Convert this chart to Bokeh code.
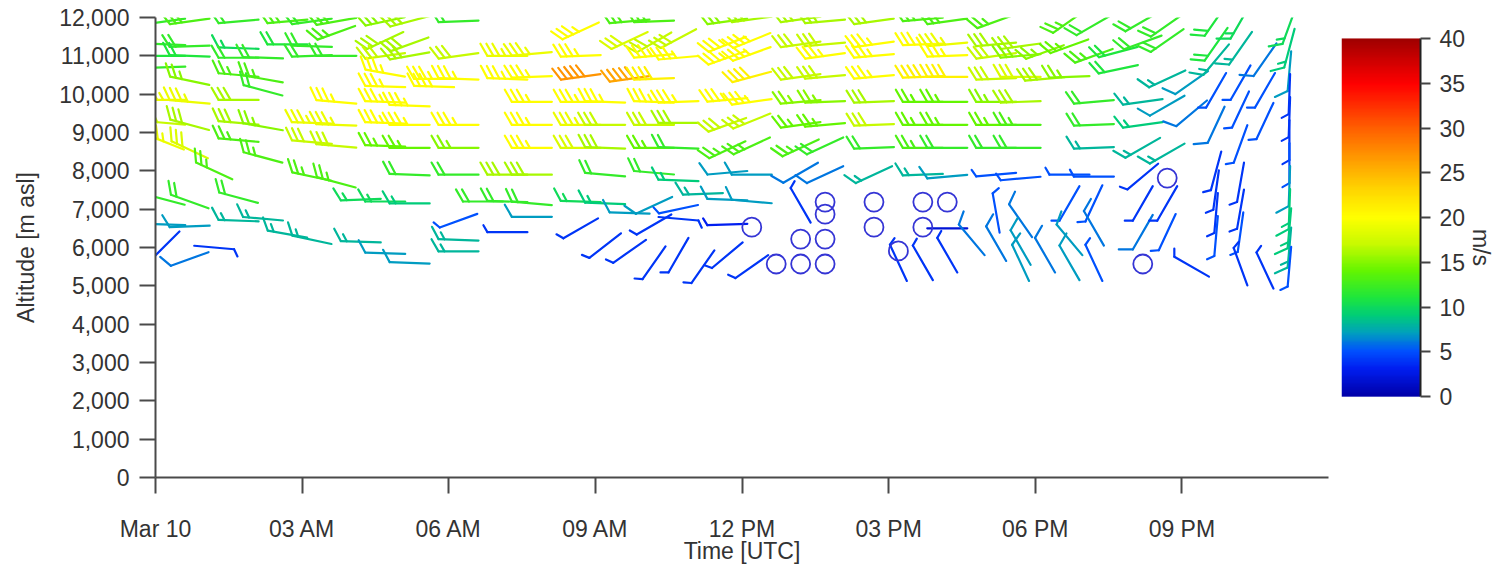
import numpy as np
from bokeh.plotting import figure
from bokeh.models import (Range1d, FixedTicker, NumeralTickFormatter, LinearAxis,
                          LinearColorMapper, ColumnDataSource)
from bokeh.transform import linear_cmap
from bokeh.layouts import row
from bokeh.embed import file_html
from bokeh.resources import INLINE

# ---------------- data ----------------
# profile times in hours after Mar 10 00:00 UTC
profile_hours = [0.2, 0.7, 1.2, 1.7, 2.2, 2.7, 3.2, 3.7, 4.2, 4.7, 5.2, 5.7, 6.2, 6.7, 7.2, 7.7,
                 8.7, 9.2, 9.7, 10.2, 10.7, 11.2, 11.7, 12.2, 12.7, 13.2, 13.7, 14.7, 15.2, 15.7,
                 16.2, 16.7, 17.2, 17.7, 18.2, 18.7, 19.2, 19.7, 20.2, 20.7, 21.2, 21.7, 22.2,
                 22.7, 23.2]
# altitude [m asl] of each observation, per profile
profile_alt = [
    [11900, 11300, 11000, 10700, 9850, 9250, 8750, 7250, 6600, 6050],
    [11900, 11250, 11000, 10350, 9800, 9200, 8550, 7200, 6550, 5700],
    [8000, 6000],
    [11900, 11200, 10950, 10500, 9850, 9250, 8800, 7300, 6700],
    [10950, 10400, 10100, 9150, 8350, 6750],
    [11900, 11300, 6350],
    [11900, 11250, 11000, 9250, 8750, 7850, 6200],
    [11900, 11600, 11000, 9800, 9200, 8650, 7700],
    [7250, 6150],
    [11900, 11400, 11000, 10550, 10200, 9800, 9250, 8650, 7200, 5850],
    [11900, 11300, 11000, 9700, 9200, 8600, 7900, 7150, 5600],
    [10400, 10200],
    [11900, 11000, 10400, 9200, 8600, 7900, 6700, 6200, 5900],
    [7200],
    [11000, 10400, 7900, 7200, 6400],
    [11050, 10450, 9800, 9200, 8600, 7900, 7150, 6800],
    [11650, 11000, 10450, 9800, 9200, 8600, 7200, 6500],
    [9800, 9200, 8600, 7900, 7150, 6050],
    [11900, 11400, 10400, 6900, 5900],
    [11900, 11350, 11000, 10400, 9800, 9200, 8600, 7950, 7100, 6600, 5600],
    [11450, 10950, 9800, 9250, 8600, 7750, 7000, 6750, 5800],
    [7400, 5500],
    [11900, 11300, 10950, 9850, 9200, 8550, 7950, 7250, 6600, 5800],
    [11950, 11400, 11050, 10450, 9800, 9300, 8650, 7900, 7200, 6530, 5500],
    [5570],
    [11950, 11300, 10450, 9800, 9200, 8600, 7950, 7100, 6220, 5570],
    [11900, 11300, 11000, 10450, 9800, 9200, 8650, 7900, 7185, 6870, 6220, 5570],
    [11900, 11300, 11000, 10450, 9800, 9200, 8600, 7900, 7185, 6530],
    [5910, 5600],
    [11950, 11300, 10450, 9800, 9200, 8600, 7900, 7185, 6530, 5600],
    [11900, 11300, 11000, 10450, 9800, 9200, 8600, 7850, 7185, 6500, 5800],
    [6200],
    [11900, 11300, 11000, 10400, 9800, 9200, 8600, 7900, 6900, 6100],
    [11250, 11000, 10450, 9800, 9200, 8600, 7800, 6700, 6000, 5600],
    [11100, 10400, 5800],
    [11900, 11250, 10450, 7900, 7150, 6200, 5600],
    [11800, 11000, 9800, 9200, 8600, 7850, 7150, 6500, 5600],
    [11100, 10650],
    [11900, 11350, 9800, 9200, 8600, 7850, 7150, 6400, 5570],
    [11800, 11400, 10400, 9700, 8450, 7810, 7150, 6400],
    [10300, 9500, 5500],
    [11950, 11300, 10900, 10100, 9200, 8000, 7500, 6900, 6300],
    [11900, 11200, 10300, 9600, 8700, 7700, 7000, 6400, 5500],
    [10900, 10100, 9300, 5400],
    [11800, 11200, 10600, 10000, 9400, 8800, 8200, 7600, 7000, 6500, 6000, 5500],
]
# wind speed [m/s]
profile_speed = [
    [12, 12, 11, 12, 19, 17, 19, 12, 7, 4],
    [13, 12, 11, 15, 19, 16, 18, 12, 7, 6],
    [13, 4],
    [12, 10, 12, 13, 16, 16, 13, 12, 8],
    [12, 13, 12, 15, 13, 8],
    [13, 11, 8],
    [12, 12, 12, 19, 17, 13, 8],
    [13, 13, 12, 20, 19, 17, 13],
    [10, 8],
    [15, 16, 17, 20, 20, 20, 20, 14, 10, 7],
    [16, 16, 16, 20, 20, 14, 12, 9, 7],
    [20, 20],
    [12, 17, 20, 20, 15, 12, 5, 8, 8],
    [12],
    [19, 20, 16, 12, 4],
    [19, 20, 20, 20, 20, 16, 12, 7],
    [20, 20, 27, 20, 19, 18, 10, 4],
    [20, 17, 16, 12, 9, 4],
    [13, 18, 26, 7, 4],
    [13, 17, 20, 21, 20, 17, 14, 12, 7, 4, 4],
    [17, 20, 20, 16, 12, 9, 5, 4, 4],
    [8, 4],
    [15, 20, 20, 20, 17, 13, 7, 7, 3, 4],
    [16, 20, 20, 21, 20, 17, 13, 7, 7, 0.2, 4],
    [0.2],
    [16, 17, 17, 15, 14, 13, 6, 4, 0.2, 0.2],
    [16, 17, 20, 17, 15, 14, 12, 6, 0.2, 0.2, 0.2, 0.2],
    [16, 20, 20, 20, 16, 17, 12, 8, 0.2, 0.2],
    [0.2, 4],
    [13, 20, 21, 14, 14, 13, 8, 0.2, 0.2, 4],
    [13, 19, 20, 21, 14, 14, 12, 7, 0.2, 2, 4],
    [6],
    [13, 16, 17, 17, 15, 14, 12, 5, 5, 6],
    [16, 15, 18, 16, 13, 12, 5, 6, 7, 7],
    [15, 16, 6],
    [13, 14, 15, 5, 5, 7, 7],
    [12, 13, 12, 12, 8, 5, 5, 6, 5],
    [11, 11],
    [12, 12, 8, 9, 8, 4, 4, 6, 0.2],
    [12, 12, 8, 7, 8, 0.2, 4, 5],
    [7, 6, 4],
    [11, 11, 8, 5, 6, 4, 4, 4, 5],
    [10, 8, 5, 5, 5, 4, 4, 5, 4],
    [6, 5, 5, 4],
    [10, 9, 7, 4, 4, 4, 5, 7, 9, 9, 8, 5],
]
# wind direction [deg, from]
profile_dir = [
    [262, 272, 270, 268, 270, 275, 292, 285, 272, 225],
    [262, 268, 272, 282, 275, 285, 295, 290, 268, 250],
    [295, 95],
    [265, 272, 270, 275, 270, 275, 275, 285, 272],
    [272, 280, 285, 280, 285, 275],
    [265, 270, 280],
    [262, 272, 268, 272, 275, 282, 282],
    [260, 250, 270, 275, 272, 275, 285],
    [268, 272],
    [258, 245, 262, 280, 272, 272, 272, 272, 270, 272],
    [255, 250, 260, 272, 270, 270, 272, 270, 272],
    [270, 272],
    [268, 262, 272, 270, 270, 270, 250, 272, 270],
    [270],
    [270, 272, 270, 272, 270],
    [265, 268, 270, 270, 270, 270, 275, 270],
    [245, 268, 262, 270, 270, 270, 272, 240],
    [272, 270, 272, 275, 272, 232],
    [265, 245, 262, 272, 235],
    [268, 240, 265, 268, 272, 270, 270, 275, 245, 240, 215],
    [242, 265, 268, 270, 272, 272, 258, 95, 210],
    [268, 215],
    [262, 248, 250, 265, 250, 245, 265, 272, 268, 230],
    [262, 248, 250, 255, 262, 248, 245, 270, 275, 0, 235],
    [0],
    [262, 262, 262, 265, 262, 245, 240, 330, 0, 0],
    [265, 265, 262, 265, 268, 265, 245, 245, 0, 0, 0, 0],
    [262, 262, 265, 265, 268, 268, 268, 245, 0, 0],
    [0, 335],
    [265, 268, 268, 270, 270, 270, 268, 0, 0, 330],
    [262, 265, 268, 270, 270, 270, 270, 265, 0, 270, 330],
    [320],
    [250, 265, 262, 268, 270, 270, 270, 265, 350, 330],
    [262, 265, 270, 268, 270, 270, 265, 325, 330, 335],
    [250, 265, 330],
    [235, 250, 268, 270, 210, 320, 330],
    [240, 250, 265, 268, 268, 270, 205, 330, 335],
    [255, 258],
    [240, 250, 262, 262, 240, 230, 210, 210, 0],
    [235, 235, 245, 240, 240, 0, 210, 205],
    [235, 230, 300],
    [215, 215, 220, 210, 205, 195, 188, 185, 185],
    [210, 215, 210, 205, 200, 190, 190, 188, 340],
    [215, 210, 205, 335],
    [200, 195, 185, 182, 182, 180, 180, 182, 182, 185, 185, 185],
]

x_tick_hours = [0, 3, 6, 9, 12, 15, 18, 21]
x_tick_labels = ["Mar 10", "03 AM", "06 AM", "09 AM", "12 PM", "03 PM", "06 PM", "09 PM"]
y_ticks = [0, 1000, 2000, 3000, 4000, 5000, 6000, 7000, 8000, 9000, 10000, 11000, 12000]
cb_ticks = [0, 5, 10, 15, 20, 25, 30, 35, 40]

assert len(profile_hours) == len(profile_alt) == len(profile_speed) == len(profile_dir)
for a_, s_, d_ in zip(profile_alt, profile_speed, profile_dir):
    assert len(a_) == len(s_) == len(d_)

# ---------------- style ----------------
FONT = "Liberation Sans"
FS = "23px"
TXT = "#333333"
AX = "#4a4a4a"
FRAME_W, FRAME_H = 1173, 461
X_MAX, Y_MAX = 24.0, 12000.0
PX_H = FRAME_W / X_MAX
PX_M = FRAME_H / Y_MAX

anchors = [(0, (0, 0, 170)), (3, (0, 30, 240)), (5, (0, 80, 255)), (7, (0, 160, 190)),
           (9, (0, 205, 120)), (11, (30, 230, 60)), (14, (100, 245, 0)), (17, (200, 250, 0)),
           (20, (255, 255, 0)), (23, (255, 215, 0)), (26, (255, 165, 0)), (30, (255, 95, 0)),
           (35, (255, 0, 0)), (40, (160, 0, 0))]


def make_palette(n=256):
    vals = [a[0] for a in anchors]
    cols = np.array([a[1] for a in anchors], dtype=float)
    out = []
    for v in np.linspace(0, 40, n):
        r = np.interp(v, vals, cols[:, 0])
        g = np.interp(v, vals, cols[:, 1])
        b = np.interp(v, vals, cols[:, 2])
        out.append("#%02x%02x%02x" % (int(round(r)), int(round(g)), int(round(b))))
    return out


palette = make_palette()

HALF = 20.0       # half staff length in px
FULL_L, HALF_L, STEP = 14.0, 8.0, 6.0
LEAN = np.deg2rad(30)


def barb(h, alt, spd, d):
    rad = np.deg2rad(d)
    ux, uy = np.sin(rad), np.cos(rad)      # towards where the wind comes from
    qx, qy = uy, -ux                       # feather side

    def P(a, b):
        sx = a * ux + b * qx
        sy = a * uy + b * qy
        return (h + sx / PX_H, alt + sy / PX_M)

    segs = [[P(-HALF, 0), P(HALF, 0)]]
    kt = spd * 1.943844
    nfull = int(kt // 10)
    nhalf = 1 if kt - nfull * 10 >= 5 else 0
    pos = HALF
    for _ in range(nfull):
        segs.append([P(pos, 0), P(pos + FULL_L * np.sin(LEAN), FULL_L * np.cos(LEAN))])
        pos -= STEP
    for _ in range(nhalf):
        segs.append([P(pos, 0), P(pos + HALF_L * np.sin(LEAN), HALF_L * np.cos(LEAN))])
        pos -= STEP
    return segs


xs, ys, sp = [], [], []
calm_x, calm_y = [], []
for h, alts, spds, dirs in zip(profile_hours, profile_alt, profile_speed, profile_dir):
    for a, s, d in zip(alts, spds, dirs):
        if s < 0.3:
            calm_x.append(h)
            calm_y.append(a)
            continue
        for seg in barb(h, a, s, d):
            xs.append([q[0] for q in seg])
            ys.append([q[1] for q in seg])
            sp.append(s)

src = ColumnDataSource(dict(xs=xs, ys=ys, spd=sp))

# ---------------- main figure ----------------
p = figure(width=1336, height=566, x_range=Range1d(0, X_MAX), y_range=Range1d(0, Y_MAX),
           output_backend="svg", toolbar_location=None,
           min_border_left=155, min_border_right=8, min_border_top=17, min_border_bottom=88)
p.grid.visible = False
p.outline_line_color = None
p.background_fill_color = "white"

p.multi_line(xs="xs", ys="ys", source=src, line_color=linear_cmap("spd", palette, 0, 40),
             line_width=2.2, line_cap="round", line_join="round")
p.scatter(calm_x, calm_y, marker="circle", size=19, fill_color=None,
          line_color="#3535d5", line_width=1.8)

for ax in (p.xaxis[0], p.yaxis[0]):
    ax.axis_line_color = AX
    ax.axis_line_width = 2
    ax.major_tick_line_color = AX
    ax.major_tick_line_width = 2
    ax.major_tick_out = 16
    ax.major_tick_in = 0
    ax.minor_tick_line_color = None
    ax.major_label_text_font = FONT
    ax.major_label_text_font_size = FS
    ax.major_label_text_color = TXT
    ax.axis_label_text_font = FONT
    ax.axis_label_text_font_size = FS
    ax.axis_label_text_font_style = "normal"
    ax.axis_label_text_color = TXT

p.xaxis.ticker = FixedTicker(ticks=x_tick_hours)
p.xaxis.major_label_overrides = {h: lab for h, lab in zip(x_tick_hours, x_tick_labels)}
p.xaxis.major_label_standoff = 22
p.xaxis.axis_label = "Time [UTC]"
p.xaxis.axis_label_standoff = -7

p.yaxis.ticker = FixedTicker(ticks=y_ticks)
p.yaxis.formatter = NumeralTickFormatter(format="0,0")
p.yaxis.major_label_standoff = 10
p.yaxis.axis_label = "Altitude [m asl]"
p.yaxis.axis_label_standoff = 17

# ---------------- colour bar ----------------
# same frame as the main plot; the bar itself spans 0..40 between y=38 and y=397
CB_PX = (397 - 38) / 40.0
cb_lo = -(478 - 397) / CB_PX
cb_hi = 40 + (38 - 17) / CB_PX
mapper = LinearColorMapper(palette=palette, low=0, high=40)
cb = figure(width=170, height=566, x_range=Range1d(0, 1), y_range=Range1d(cb_lo, cb_hi),
            output_backend="svg", toolbar_location=None,
            x_axis_location=None, y_axis_location=None,
            min_border_left=5, min_border_right=86, min_border_top=17, min_border_bottom=88)
cb.grid.visible = False
cb.outline_line_color = None
grad = np.linspace(0, 40, 400).reshape(400, 1)
cb.image(image=[grad], x=0, y=0, dw=1, dh=40, color_mapper=mapper)
cax = LinearAxis(ticker=FixedTicker(ticks=cb_ticks), axis_label="m/s", bounds=(0, 40))
cax.axis_line_color = "#222222"
cax.axis_line_width = 2
cax.major_tick_line_color = "#444444"
cax.major_tick_line_width = 2
cax.major_tick_out = 10
cax.major_tick_in = 0
cax.minor_tick_line_color = None
cax.major_label_standoff = 9
cax.major_label_text_font = FONT
cax.major_label_text_font_size = FS
cax.major_label_text_color = TXT
cax.axis_label_text_font = FONT
cax.axis_label_text_font_size = FS
cax.axis_label_text_font_style = "normal"
cax.axis_label_text_color = TXT
cax.axis_label_standoff = 0
cb.add_layout(cax, "right")

layout = row(p, cb)
open("out.html", "w").write(file_html(layout, INLINE))
